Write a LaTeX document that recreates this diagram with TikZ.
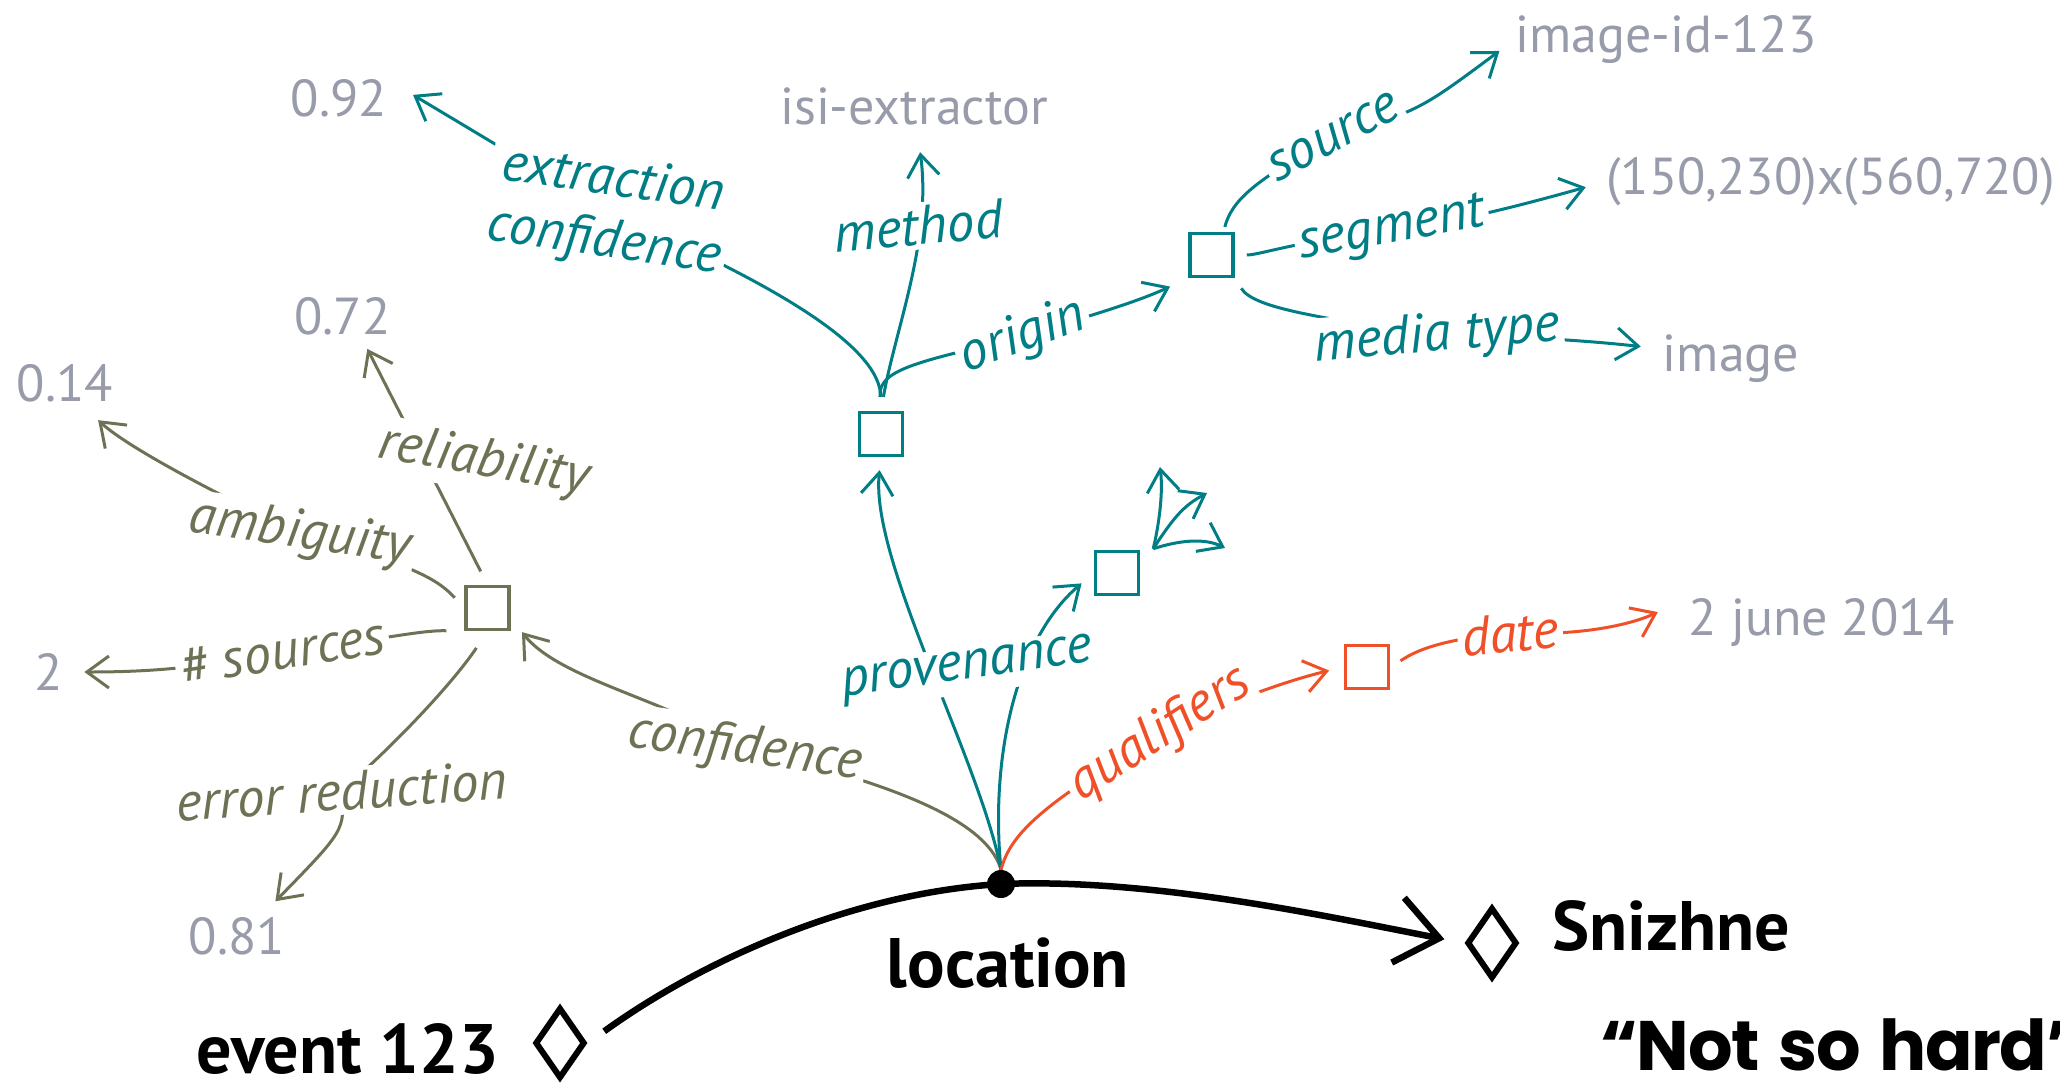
\documentclass[tikz,border=0pt]{standalone}
\usepackage{fontspec}
\setmainfont{PT Sans}
\newfontfamily\geofont[LetterSpace=-2,WordSpace=1.4]{Poppins}
\usetikzlibrary{arrows.meta,shapes.geometric,backgrounds}

\definecolor{tealc}{RGB}{0,125,133}
\definecolor{olivec}{RGB}{110,114,84}
\definecolor{redc}{RGB}{240,80,40}
\definecolor{greyc}{RGB}{151,155,170}

\tikzset{
  valtxt/.style={text=greyc, font=\fontsize{52}{62}\selectfont, inner sep=0pt},
  lab/.style={font=\fontsize{55}{62}\selectfont\itshape, fill=white, inner sep=4pt},
  tlab/.style={lab, text=tealc},
  olab/.style={lab, text=olivec},
  rlab/.style={lab, text=redc},
  tipb/.style={-{Straight Barb[length=22pt,width=32pt]}},
  conn/.style={line width=3pt, tipb},
  tcon/.style={conn, draw=tealc},
  ocon/.style={conn, draw=olivec},
  rcon/.style={conn, draw=redc},
  rec/.style={draw, line width=3.5pt, minimum width=43pt, minimum height=43pt, inner sep=0pt},
  ent/.style={diamond, draw, line width=6pt, minimum width=50pt, minimum height=71pt, inner sep=0pt},
  bigtxt/.style={font=\fontsize{70}{84}\selectfont\bfseries, inner sep=0pt},
  mainln/.style={line width=6.5pt, -{Straight Barb[length=42pt,width=66pt]}}
}

\begin{document}
\begin{tikzpicture}[x=1pt,y=-1pt]
\useasboundingbox (0,0) rectangle (2060,1082);

% values
\node[valtxt] (v092) at (339,98.5) {0.92};
\node[valtxt] (isi) at (914,106.5) {isi-extractor};
\node[valtxt] (imgid) at (1666,39) {image-id-123};
\node[valtxt, anchor=west] (coords) at (1606,181.5) {(150,230)x(560,720)};
\node[valtxt] (image) at (1731,359) {image};
\node[valtxt] (v072) at (342.5,316.5) {0.72};
\node[valtxt] (v014) at (65,383.5) {0.14};
\node[valtxt] (v2) at (49,672) {2};
\node[valtxt] (v081) at (237,936) {0.81};
\node[valtxt] (d2014) at (1822,622) {2 june 2014};

% blank nodes
\node[rec, draw=tealc] (boxA) at (881,434) {};
\node[rec, draw=tealc] (boxB) at (1211.5,255) {};
\node[rec, draw=tealc] (boxC) at (1117,573) {};
\node[rec, draw=olivec] (obox) at (487.5,608) {};
\node[rec, draw=redc] (boxR) at (1367,667) {};

% entities and the statement point
\node[ent] (evd) at (560,1043) {};
\node[ent] (snd) at (1492,943) {};
\node[circle, fill=black, inner sep=0pt, minimum size=28pt] (dot) at (1001,884) {};

\node[bigtxt, anchor=base east] (evt) at (499,1073) {event 123};
\node[bigtxt, anchor=base] (loc) at (1008,987) {location};
\node[bigtxt, anchor=base west] (sniz) at (1552,950) {Snizhne};
\node[inner sep=0pt, font=\geofont\fontsize{70}{84}\selectfont\bfseries, anchor=base west] (nsh) at (1600,1070) {“Not so hard”};

% edge labels
\node[tlab, rotate=-8, align=center] (ecl) at (608.5,212) {extraction\\confidence};
\node[tlab, rotate=5] (mtd) at (918,226) {method};
\node[tlab, rotate=20] (orl) at (1023,337) {origin};
\node[tlab, rotate=28] (srcl) at (1334,137) {source};
\node[tlab, rotate=10] (segl) at (1392,231) {segment};
\node[tlab, rotate=5] (mtl) at (1437,337) {media type};
\node[tlab, rotate=8] (prv) at (967,670) {provenance};
\node[olab, rotate=-10] (rel) at (484,462) {reliability};
\node[olab, rotate=-8] (aml) at (300,534) {ambiguity};
\node[olab, rotate=9] (nsrc) at (282,652) {\# sources};
\node[olab, rotate=4] (erl) at (341.5,791) {error reduction};
\node[olab, rotate=-8] (ocf) at (745,749) {confidence};
\node[rlab, rotate=33] (qul) at (1160,734.5) {qualifiers};
\node[rlab, rotate=5] (datel) at (1510,633) {date};

\coordinate (fan) at ([xshift=13pt,yshift=1pt]boxC.north east);
\coordinate (f1) at (1160,467);
\coordinate (f2) at (1207,493);
\coordinate (f3) at (1225,548);

\begin{pgfonlayer}{background}
% main relation
\draw[mainln, shorten <=20pt, shorten >=20pt] (evd.east) .. controls (700,962) and (850,893) .. (dot.center)
  .. controls (1150,878) and (1320,915) .. (snd.west);

% confidence
\draw[ocon, shorten >=18pt] (dot.north) .. controls (990,830) and (925,790) .. (ocf.center)
  .. controls (670,700) and (560,680) .. ([yshift=-10pt]obox.east);
\draw[ocon, shorten <=15pt, shorten >=15pt] (obox.north) -- ([xshift=18pt]v072.south);
\draw[ocon, shorten <=14pt, shorten >=26pt] (obox.west) .. controls (440,582) and (420,566) .. (aml.center)
  .. controls (200,486) and (125,445) .. ([xshift=14pt]v014.south);
\draw[ocon, shorten <=18pt, shorten >=21pt] (obox.south west) .. controls (420,630) and (380,640) .. (nsrc.center)
  .. controls (200,668) and (150,672) .. (v2.east);
\draw[ocon, shorten <=20pt, shorten >=22pt] (obox.south) .. controls (455,680) and (400,740) .. (erl.center)
  .. controls (345,830) .. ([xshift=23pt]v081.north);

% provenance
\draw[tcon, shorten >=13pt] (dot.north) .. controls (980,760) and (870,560) .. (boxA.south);
\draw[tcon, shorten >=16pt] (dot.north) .. controls (990,760) and (1015,640) .. (boxC.west);
\draw[tcon, shorten <=14pt, shorten >=30pt] (boxA.north) .. controls (880,350) and (790,290) .. (ecl.center)
  -- (v092.north east);
\draw[tcon, shorten <=14pt, shorten >=27pt] (boxA.north) .. controls (895,330) and (932,240) .. (isi);
\draw[tcon, shorten <=14pt, shorten >=20pt] (boxA.north) .. controls (878,370) and (915,362) .. (orl.center)
  .. controls (1080,318) and (1130,305) .. (boxB.south west);
\draw[tcon, shorten <=5pt, shorten >=20pt] ([xshift=12pt]boxB.north) .. controls (1232,200) and (1255,180) .. (srcl.center)
  .. controls (1420,110) .. (imgid.west);
\draw[tcon, shorten <=12pt, shorten >=21pt] (boxB.east) .. controls (1260,255) and (1300,240) .. (segl.center)
  .. controls (1460,222) and (1540,200) .. (coords.west);
\draw[tcon, shorten <=12pt, shorten >=22pt] (boxB.south east) .. controls (1255,310) and (1330,318) .. (mtl.center)
  .. controls (1520,335) and (1600,342) .. ([yshift=10pt]image.west);
\draw[tcon] (fan) .. controls (1160,520) and (1163,490) .. (f1);
\draw[tcon] (fan) .. controls (1175,515) and (1185,505) .. (f2);
\draw[tcon] (fan) .. controls (1180,540) and (1205,538) .. (f3);

% qualifiers
\draw[rcon, shorten >=15pt] (dot.north) .. controls (1010,835) and (1040,805) .. (qul.center)
  .. controls (1230,700) and (1290,680) .. (boxR.west);
\draw[rcon, shorten <=12pt, shorten >=34pt] (boxR.east) .. controls (1410,655) and (1430,640) .. (datel.center)
  .. controls (1580,636) and (1630,625) .. (d2014.north west);
\end{pgfonlayer}
\end{tikzpicture}
\end{document}
